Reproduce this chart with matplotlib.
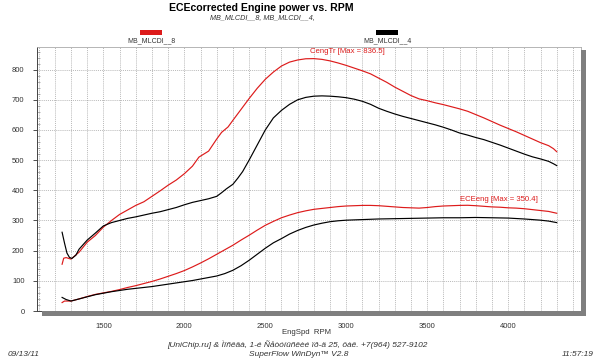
import matplotlib
matplotlib.use("Agg")
import matplotlib.pyplot as plt
from matplotlib.patches import Rectangle
from matplotlib.ticker import MultipleLocator

plt.rcParams["font.family"] = ["Liberation Sans", "DejaVu Sans"]

# torque curves (CengTr)
tq8_rpm = [1245, 1255, 1270, 1300, 1350, 1400, 1450, 1500, 1550, 1600, 1650, 1700,
           1750, 1800, 1850, 1900, 1950, 2000, 2050, 2090, 2150, 2200, 2230, 2270,
           2300, 2350, 2400, 2450, 2500, 2550, 2600, 2650, 2700, 2750, 2800, 2850,
           2900, 2950, 3000, 3050, 3100, 3150, 3200, 3250, 3300, 3350, 3400, 3450,
           3500, 3550, 3600, 3650, 3700, 3750, 3800, 3850, 3900, 3950, 4000, 4050,
           4100, 4150, 4200, 4250, 4280, 4300]
tq8 = [155, 175, 177, 172, 195, 228, 250, 278, 300, 320, 335, 350,
       362, 380, 398, 417, 434, 455, 480, 510, 530, 570, 592, 610,
       632, 668, 704, 738, 768, 792, 812, 825, 832, 836, 836.5, 834,
       829, 822, 814, 805, 796, 786, 772, 758, 742, 728, 714, 703,
       697, 690, 684, 677, 670, 662, 651, 640, 628, 616, 605, 594,
       582, 570, 558, 548, 538, 528]

tq4_rpm = [1245, 1260, 1275, 1290, 1305, 1330, 1350, 1400, 1450, 1500, 1550, 1600,
           1650, 1700, 1750, 1800, 1850, 1900, 1950, 2000, 2050, 2100, 2150, 2200,
           2230, 2260, 2300, 2330, 2360, 2400, 2450, 2500, 2550, 2600, 2650, 2700,
           2750, 2800, 2850, 2900, 2950, 3000, 3050, 3100, 3150, 3200, 3250, 3300,
           3350, 3400, 3450, 3500, 3550, 3600, 3650, 3700, 3750, 3800, 3850, 3900,
           3950, 4000, 4050, 4100, 4150, 4200, 4250, 4280, 4300]
tq4 = [261, 225, 192, 178, 174, 185, 205, 235, 258, 282, 293, 300,
       307, 312, 318, 324, 329, 336, 343, 352, 360, 366, 372, 380,
       392, 405, 420, 440, 462, 500, 550, 600, 640, 665, 685, 700,
       708, 712, 713, 712, 710, 707, 702, 695, 685, 672, 662, 653,
       645, 638, 631, 624, 617, 609, 600, 590, 583, 575, 568, 559,
       550, 540, 530, 520, 511, 504, 496, 488, 482]

# power curves (ECEeng)
pw8_rpm = [1245, 1260, 1300, 1350, 1400, 1450, 1500, 1550, 1600, 1650, 1700, 1750,
           1800, 1850, 1900, 1950, 2000, 2050, 2100, 2150, 2200, 2250, 2300, 2350,
           2400, 2450, 2500, 2550, 2600, 2650, 2700, 2750, 2800, 2850, 2900, 2950,
           3000, 3050, 3100, 3150, 3200, 3250, 3300, 3350, 3400, 3450, 3500, 3550,
           3600, 3650, 3700, 3750, 3800, 3850, 3900, 3950, 4000, 4050, 4100, 4150,
           4200, 4250, 4300]
pw8 = [28, 33, 33, 40, 48, 55, 60, 65, 71, 78, 84, 91,
       98, 106, 115, 124, 134, 146, 159, 173, 188, 203, 218, 235,
       251, 268, 284, 297, 309, 318, 326, 332, 337, 340, 343, 346,
       348, 349, 350, 350, 349, 347, 345, 343, 342, 341, 343, 346,
       348, 349, 350, 350.4, 349, 347, 345, 344, 342, 341, 339, 336,
       333, 330, 324]

pw4_rpm = [1245, 1270, 1300, 1350, 1400, 1450, 1500, 1550, 1600, 1650, 1700, 1750,
           1800, 1850, 1900, 1950, 2000, 2050, 2100, 2150, 2200, 2250, 2300, 2350,
           2400, 2450, 2500, 2550, 2600, 2650, 2700, 2750, 2800, 2850, 2900, 2950,
           3000, 3100, 3200, 3300, 3400, 3500, 3600, 3700, 3800, 3900, 4000, 4100,
           4200, 4250, 4300]
pw4 = [45, 38, 33, 40, 47, 54, 59, 64, 68, 72, 75, 78,
       81, 85, 89, 93, 97, 101, 106, 111, 116, 124, 135, 150,
       168, 188, 208, 226, 240, 255, 267, 277, 285, 291, 296, 299,
       301, 303, 305, 306, 307, 308, 309, 309, 310, 309, 308, 305,
       301, 298, 293]

RED = "#dd1b1b"
GRID = "#a0a0a0"
TXT = "#333333"

fig = plt.figure(figsize=(6, 3.6), dpi=100)
ax = fig.add_axes([37 / 600, 1 - 311 / 360, 544 / 600, 264 / 360])

ax.plot(tq8_rpm, tq8, color=RED, lw=0.85)
ax.plot(tq4_rpm, tq4, color="black", lw=0.85)
ax.plot(pw8_rpm, pw8, color=RED, lw=0.85)
ax.plot(pw4_rpm, pw4, color="black", lw=0.85)

ax.set_xlim(1090, 4450)
ax.set_ylim(0, 875)

ax.xaxis.set_major_locator(MultipleLocator(500))
ax.xaxis.set_minor_locator(MultipleLocator(100))
ax.yaxis.set_major_locator(MultipleLocator(100))
ax.yaxis.set_minor_locator(MultipleLocator(20))

ax.grid(which="major", color=GRID, ls=(0, (1.5, 1.5)), lw=0.5)
ax.grid(which="minor", axis="x", color=GRID, ls=(0, (1.5, 1.5)), lw=0.5)

ax.tick_params(axis="both", which="major", labelsize=5.5, colors=TXT,
               length=3, width=0.6, pad=6)
ax.tick_params(axis="x", which="minor", length=0)
ax.tick_params(axis="y", which="minor", direction="in", length=2,
               width=0.4, colors="#777777")

for side in ["top", "right"]:
    ax.spines[side].set_color("#aaaaaa")
    ax.spines[side].set_linewidth(0.6)
ax.spines["left"].set_color("#444444")
ax.spines["left"].set_linewidth(0.7)
ax.spines["bottom"].set_color("#444444")
ax.spines["bottom"].set_linewidth(0.7)

# drop shadow of the plot box
fig.add_artist(Rectangle((42 / 600, 1 - 316 / 360), 544 / 600, 5 / 360,
                         transform=fig.transFigure, color="#7f7f7f", lw=0))
fig.add_artist(Rectangle((581 / 600, 1 - 316 / 360), 5 / 600, 266 / 360,
                         transform=fig.transFigure, color="#7f7f7f", lw=0))

ax.text(2779, 861, "CengTr [Max = 836.5]", color=RED, fontsize=5.6,
        ha="left", va="center")
ax.text(3700, 368, "ECEeng [Max = 350.4]", color=RED, fontsize=5.6,
        ha="left", va="center")

# titles
fig.text(261 / 600, 1 - 8 / 360, "ECEcorrected Engine power vs. RPM",
         fontsize=7.6, fontweight="bold", ha="center", va="center")
fig.text(262 / 600, 1 - 18 / 360, "MB_MLCDI__8, MB_MLCDI__4,",
         fontsize=5.2, style="italic", ha="center", va="center", color=TXT)

# legend
fig.add_artist(Rectangle((140 / 600, 1 - 35 / 360), 22 / 600, 5 / 360,
                         transform=fig.transFigure, color=RED, lw=0))
fig.text(151 / 600, 1 - 41 / 360, "MB_MLCDI__8", fontsize=5,
         ha="center", va="center", color=TXT)
fig.add_artist(Rectangle((376 / 600, 1 - 35 / 360), 22 / 600, 5 / 360,
                         transform=fig.transFigure, color="black", lw=0))
fig.text(387 / 600, 1 - 41 / 360, "MB_MLCDI__4", fontsize=5,
         ha="center", va="center", color=TXT)

# footer
fig.text(306 / 600, 1 - 333 / 360, "EngSpd  RPM", fontsize=5.6,
         ha="center", va="center", color=TXT)
fig.text(297 / 600, 1 - 345 / 360,
         "[UniChip.ru] & Ìîñêâà, 1-é Ñåòóíüñêèé ïð-ä 25, ôàê. +7(964) 527-9102",
         fontsize=6, style="italic", ha="center", va="center", color=TXT)
fig.text(299 / 600, 1 - 354 / 360, "SuperFlow WinDyn™ V2.8", fontsize=6,
         style="italic", ha="center", va="center", color=TXT)
fig.text(8 / 600, 1 - 354 / 360, "09/13/11", fontsize=6, style="italic",
         ha="left", va="center", color=TXT)
fig.text(594 / 600, 1 - 354 / 360, "11:57:19", fontsize=6, style="italic",
         ha="right", va="center", color=TXT)

fig.savefig("out.png", dpi=100)
